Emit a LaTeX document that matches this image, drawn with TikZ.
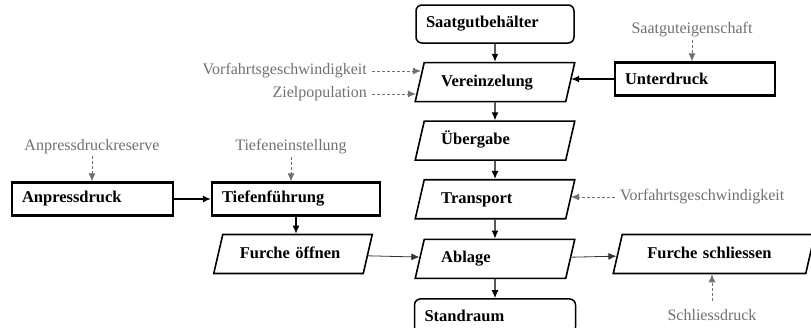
\documentclass[tikz,border=0pt]{standalone}
\usepackage{fontspec}
\setmainfont{Liberation Serif}
\usetikzlibrary{arrows.meta,positioning,shapes.geometric,calc}
\definecolor{lblgray}{RGB}{112,112,112}

\begin{document}
\begin{tikzpicture}[x=1pt, y=-1pt,
    nfont/.style={font=\fontsize{16.5}{19}\selectfont\bfseries},
    rbox/.style={draw, line width=2.1pt, nfont, text width=#1, align=left, inner xsep=10pt, minimum height=33pt},
    tbox/.style={draw, rounded corners=6pt, line width=1.5pt, nfont, text width=#1, align=left, inner xsep=10pt, minimum height=34pt},
    pbox/.style={draw, trapezium, trapezium left angle=77, trapezium right angle=103, line width=1.6pt, nfont, text width=#1, align=left, inner xsep=17pt, inner ysep=11.5pt, text height=12pt, text depth=4pt},
    lbl/.style={font=\fontsize{16}{18}\selectfont, text=lblgray, inner sep=2pt},
    arr/.style={-{Latex[length=8pt, width=7pt]}, line width=1.3pt},
    tarr/.style={-{Latex[length=8pt, width=7pt]}, line width=0.8pt, black!80},
    darr/.style={-{Latex[length=8pt, width=7pt]}, line width=0.9pt, lblgray, dash pattern=on 3pt off 2pt}
]
\useasboundingbox (0,0) rectangle (811,327);

% Dosierung
\node[tbox={138pt}, minimum height=38pt] (sat) at (495,24) {Saatgutbehälter};
\node[pbox={107.5pt}, below=18pt of sat] (ver) {Vereinzelung};
\node[pbox={107.5pt}, below=18pt of ver] (ueb) {Übergabe};
\node[pbox={107.5pt}, below=18pt of ueb] (tra) {Transport};
\node[pbox={107.5pt}, below=19pt of tra] (abl) {Ablage};
\node[tbox={141pt}, below=19pt of abl] (sta) {Standraum};
\node[rbox={140pt}] (unt) at (695,79) {Unterdruck};

% Furche
\node[rbox={141pt}] (anp) at (92.5,199) {Anpressdruck};
\node[rbox={148pt}] (tie) at (296,199) {Tiefenführung};
\node[pbox={106.5pt}] (foe) at (293,254) {Furche öffnen};
\node[pbox={133.5pt}, inner xsep=25pt] (fsc) at (714,254) {Furche schliessen};

% Einflussgroessen
\node[lbl, anchor=east] (vfl) at (369,71) {Vorfahrtsgeschwindigkeit};
\node[lbl, anchor=east] (zpo) at (369,94) {Zielpopulation};
\node[lbl] (sge) at (692,30) {Saatguteigenschaft};
\node[lbl] (apr) at (92,147) {Anpressdruckreserve};
\node[lbl] (tei) at (291,147) {Tiefeneinstellung};
\node[lbl, anchor=west] (vfr) at (618,197) {Vorfahrtsgeschwindigkeit};
\node[lbl] (sld) at (712,315) {Schliessdruck};

\draw[arr] (sat) -- (ver);
\draw[arr] (ver) -- (ueb);
\draw[arr] (ueb) -- (tra);
\draw[arr] (tra) -- (abl);
\draw[arr] (abl) -- (sta);
\draw[arr, line width=1.7pt] (unt.west) -- (unt.west -| ver.east);
\draw[arr, line width=1.7pt] (anp) -- (tie);
\draw[arr] (tie.south) -- (tie.south |- foe.north);
\draw[tarr] (foe) -- (abl);
\draw[tarr] (abl) -- (fsc);

\draw[darr, shorten <=3pt] (vfl.east) -- ($(vfl.east -| ver.west)+(2,0)$);
\draw[darr, shorten <=3pt] (zpo.east) -- ($(zpo.east -| ver.west)+(-3,0)$);
\draw[darr] (sge.south) -- (sge.south |- unt.north);
\draw[darr] (apr.south) -- (apr.south |- anp.north);
\draw[darr] (tei.south) -- (tei.south |- tie.north);
\draw[darr, shorten <=3pt] (vfr.west) -- (vfr.west -| tra.east);
\draw[darr, shorten <=6pt] (sld.north) -- (sld.north |- fsc.south);
\end{tikzpicture}
\end{document}
